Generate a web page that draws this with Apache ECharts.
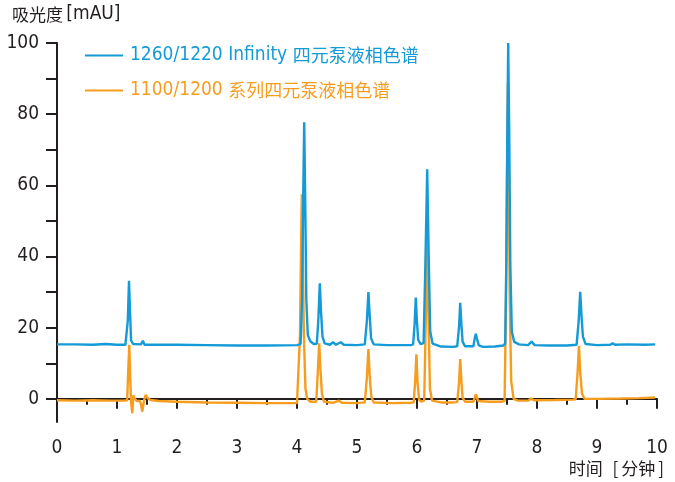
<!DOCTYPE html>
<html><head><meta charset="utf-8">
<script src="https://cdn.jsdelivr.net/npm/echarts@6/dist/echarts.min.js"></script>
<style>html,body{margin:0;padding:0;background:#fff}#c{width:675px;height:482px}</style>
</head><body><div id="c"></div>
<script>
const seriesNames = ['1260/1220 Infinity 四元泵液相色谱', '1100/1200 系列四元泵液相色谱'];
const seriesColors = ['#149bd7', '#f79d1e'];

// [time (min), absorbance (mAU)]
const blueTrace = [
  [0.00,15.3],[0.30,15.3],[0.60,15.2],[0.80,15.4],[1.00,15.2],[1.14,15.2],
  [1.165,15.7],[1.18,22],[1.20,33.2],[1.218,24],[1.235,16.4],[1.27,15.4],
  [1.30,15.2],[1.40,15.3],[1.43,16.3],[1.46,15.2],
  [1.60,15.2],[2.0,15.2],[2.5,15.1],[3.0,15.0],[3.5,15.0],[4.0,15.1],
  [4.06,15.4],[4.085,28],[4.103,56],[4.12,77.7],[4.137,56],[4.155,28],[4.18,18],[4.22,16.2],[4.28,15.4],
  [4.33,15.5],[4.355,22],[4.38,32.5],[4.402,24],[4.425,17.5],[4.46,15.6],
  [4.55,15.2],[4.60,15.9],[4.65,15.2],[4.73,15.9],[4.78,15.2],[5.0,15.1],
  [5.13,15.3],[5.165,22],[5.19,30],[5.213,23],[5.235,17],[5.28,15.3],
  [5.5,15.1],[5.9,15.1],
  [5.935,15.3],[5.96,21],[5.98,28.5],[5.998,22],[6.02,16.6],[6.06,15.4],
  [6.11,15.7],[6.14,38],[6.17,64.5],[6.195,40],[6.22,19],[6.26,15.5],
  [6.4,14.7],[6.6,14.6],
  [6.67,14.8],[6.70,20],[6.72,27],[6.74,21],[6.76,16],[6.8,14.8],
  [6.94,14.8],[6.962,17],[6.98,18.3],[6.998,17],[7.03,15],[7.1,14.6],
  [7.3,14.7],[7.44,15.0],
  [7.47,15.6],[7.49,40],[7.505,75],[7.52,100],[7.537,75],[7.555,38],[7.58,19],[7.62,16],[7.7,15.3],
  [7.85,15.1],[7.91,16.1],[7.96,15.1],[8.2,15.0],[8.5,15.0],
  [8.66,15.2],[8.695,22],[8.72,30.1],[8.743,23],[8.765,17.5],[8.81,15.4],
  [9.0,15.1],[9.22,15.2],[9.26,15.6],[9.30,15.2],[9.5,15.3],[9.8,15.2],[9.97,15.3]
];

const orangeTrace = [
  [0.00,-0.4],[0.3,-0.5],[0.6,-0.4],[0.9,-0.5],[1.1,-0.5],[1.17,-0.4],
  [1.185,7],[1.205,15.2],[1.22,6],[1.235,-1],[1.255,-4.0],[1.272,1.0],[1.29,0.2],[1.33,-0.6],
  [1.38,-0.6],[1.40,-1.5],[1.422,-3.6],[1.45,-0.5],[1.478,1.1],[1.51,0.2],[1.56,-0.3],
  [1.7,-0.6],[2.0,-0.8],[2.5,-1.0],[3.0,-1.1],[3.5,-1.2],[4.0,-1.2],
  [4.025,-0.9],[4.05,18],[4.067,42],[4.08,57.5],[4.097,40],[4.115,18],[4.14,3],[4.17,0],[4.22,-0.8],
  [4.32,-0.8],[4.345,7],[4.37,15.6],[4.392,8],[4.415,1.5],[4.45,-0.8],
  [4.6,-1.1],[4.70,-0.5],[4.75,-1.1],[5.0,-1.2],
  [5.13,-1.0],[5.165,6],[5.19,14],[5.213,6],[5.24,0.5],[5.28,-1.0],
  [5.6,-1.2],[5.9,-1.1],
  [5.945,-1.0],[5.97,5],[5.99,12.5],[6.008,5],[6.035,-0.2],[6.07,-0.8],
  [6.12,-0.5],[6.15,25],[6.17,50],[6.19,25],[6.215,3],[6.25,-0.5],
  [6.4,-1.0],[6.6,-1.0],
  [6.67,-0.9],[6.70,4.5],[6.72,11.2],[6.74,5],[6.76,0.3],[6.8,-0.8],
  [6.94,-0.8],[6.98,1.3],[7.02,-0.6],[7.2,-0.8],[7.42,-0.8],
  [7.46,-0.5],[7.485,30],[7.50,62],[7.515,89],[7.53,62],[7.545,28],[7.57,5],[7.61,0],[7.68,-0.5],
  [7.85,-0.5],[7.90,0.1],[7.95,-0.4],[8.3,-0.3],[8.6,-0.2],
  [8.645,-0.1],[8.675,7],[8.70,14.9],[8.722,7],[8.75,1.5],[8.79,0],
  [9.0,0.0],[9.4,0.1],[9.7,0.2],[9.97,0.4]
];

const yTickValues = [0,10,20,30,40,50,60,70,80,90,100];
const yLabelValues = [0,20,40,60,80,100];
const xRange = [0, 10];
const yRange = [-6.5, 100];

const latin = "'DejaVu Sans Condensed', 'DejaVu Sans', sans-serif";
const cjk = "'Noto Sans CJK SC', sans-serif";
const axisColor = '#231f20';

const chart = echarts.init(document.getElementById('c'), null, {renderer: 'canvas'});
chart.setOption({
  animation: false,
  backgroundColor: '#fff',
  grid: {left: 57, right: 18, top: 43, bottom: 60, outerBoundsMode: 'none'},
  legend: {
    orient: 'vertical', left: 85, top: 46, itemGap: 16, padding: 0,
    icon: 'rect', itemWidth: 38, itemHeight: 2,
    data: [
      {name: seriesNames[0], textStyle: {color: seriesColors[0]}},
      {name: seriesNames[1], textStyle: {color: seriesColors[1]}}
    ],
    formatter: function (name) {
      const m = name.match(/^([0-9\/A-Za-z ]+?)\s*([^\x00-\x7f].*)$/);
      return '{l|' + m[1] + ' }{c|' + m[2] + '}';
    },
    textStyle: {
      padding: [0, 0, 0, 2],
      rich: {
        l: {fontFamily: latin, fontSize: 19},
        c: {fontFamily: cjk, fontSize: 18}
      }
    }
  },
  xAxis: {
    type: 'value', min: xRange[0], max: xRange[1], interval: 1,
    axisLine: {lineStyle: {color: axisColor, width: 2}},
    axisTick: {length: 10, lineStyle: {color: axisColor, width: 2}},
    minorTick: {show: true, splitNumber: 2, length: 6, lineStyle: {color: axisColor, width: 2}},
    axisLabel: {color: axisColor, fontFamily: latin, fontSize: 19, margin: 17},
    splitLine: {show: false}
  },
  yAxis: {
    type: 'value', min: yRange[0], max: yRange[1],
    axisLine: {show: true, lineStyle: {color: axisColor, width: 2}},
    axisTick: {show: true, length: 11, customValues: yTickValues, lineStyle: {color: axisColor, width: 2}},
    axisLabel: {color: axisColor, fontFamily: latin, fontSize: 19, margin: 18, customValues: yLabelValues},
    splitLine: {show: false}
  },
  graphic: [
    {type: 'text', left: 12, top: 5, style: {
      text: '{c|吸光度} {l|[mAU]}', fill: axisColor,
      rich: {c: {fontFamily: cjk, fontSize: 17, fill: axisColor}, l: {fontFamily: latin, fontSize: 19, fill: axisColor}}
    }},
    {type: 'text', right: 11, top: 460, style: {
      text: '{c|时间}  {b|[}{c|分钟}{b|]}', fill: axisColor,
      rich: {
        c: {fontFamily: cjk, fontSize: 17, fill: axisColor},
        b: {fontFamily: cjk, fontSize: 17, fill: axisColor, padding: [0, 3]}
      }
    }}
  ],
  series: [
    {name: seriesNames[1], type: 'line', data: orangeTrace, showSymbol: false, symbol: 'none',
     lineStyle: {color: seriesColors[1], width: 2.4}, itemStyle: {color: seriesColors[1]}, z: 2},
    {name: seriesNames[0], type: 'line', data: blueTrace, showSymbol: false, symbol: 'none',
     lineStyle: {color: seriesColors[0], width: 2.4}, itemStyle: {color: seriesColors[0]}, z: 3}
  ]
});
</script></body></html>
